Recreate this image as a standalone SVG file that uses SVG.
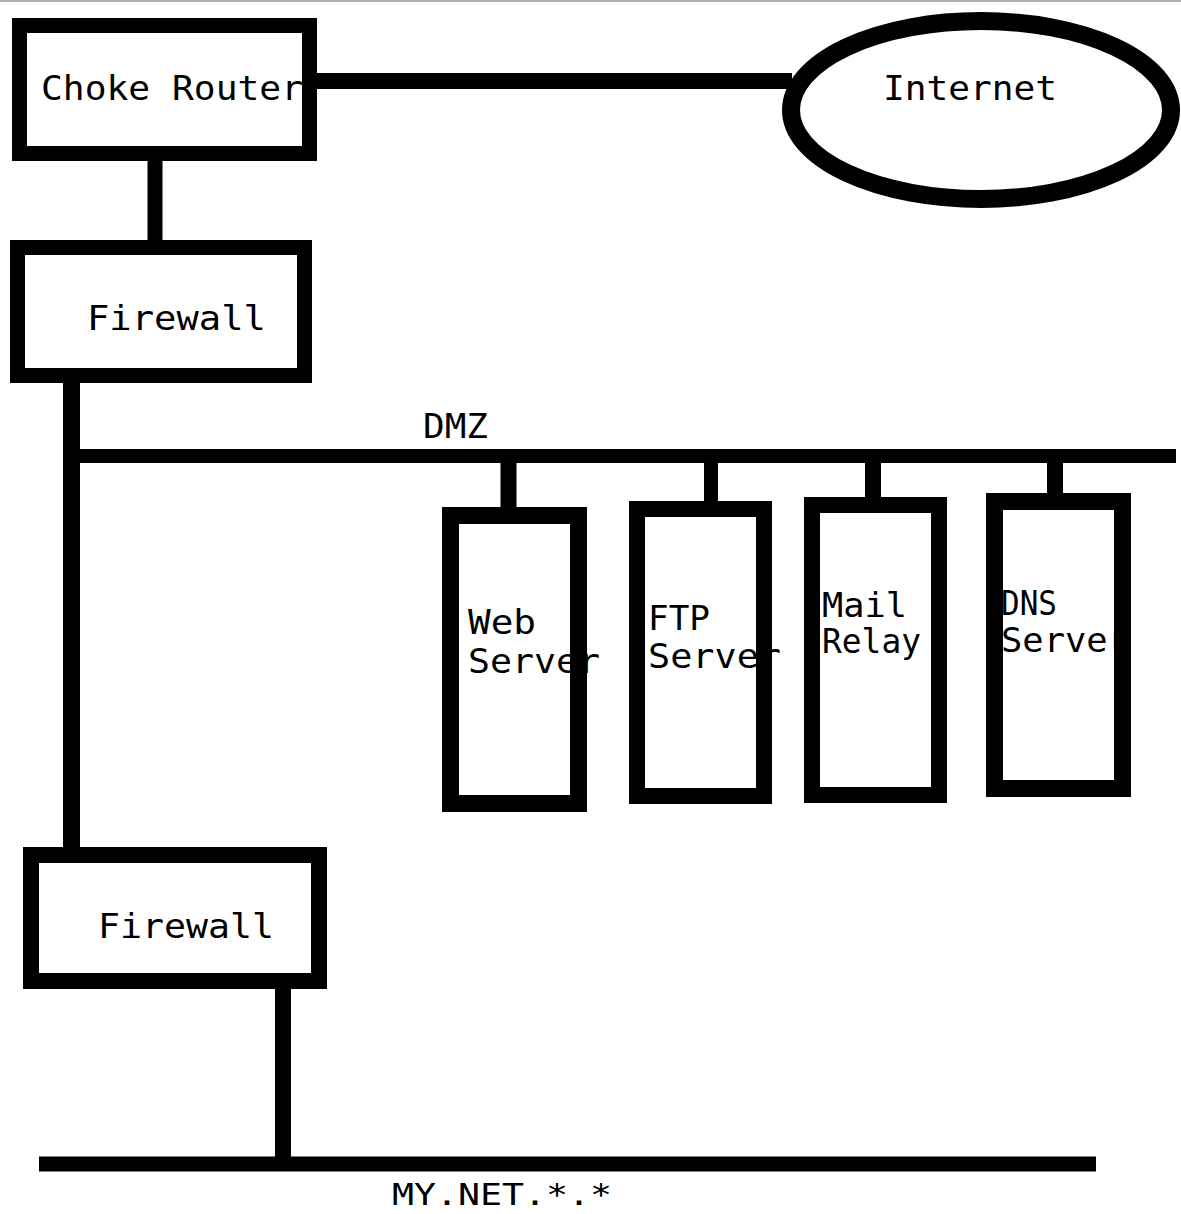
<svg xmlns="http://www.w3.org/2000/svg" width="1181" height="1214" viewBox="0 0 1181 1214">
  <style>
    .box { fill: #ffffff; stroke: #000000; }
    .wire { stroke: #000000; fill: none; stroke-linecap: butt; }
    .lbl { font-family: "DejaVu Sans Mono", "Liberation Mono", monospace; font-size: 33px; fill: #000000; }
  </style>
  <rect x="0" y="0" width="1181" height="1214" fill="#ffffff"/>
  <line x1="0" y1="1" x2="1181" y2="1" stroke="#b0b0b0" stroke-width="2"/>

  <g id="connectors">
    <line class="wire" x1="316" y1="81" x2="792" y2="81" stroke-width="16"/>
    <line class="wire" x1="155" y1="160" x2="155" y2="242" stroke-width="15"/>
    <line class="wire" x1="71.5" y1="382" x2="71.5" y2="849" stroke-width="17"/>
    <line class="wire" x1="63" y1="456" x2="1176" y2="456" stroke-width="14"/>
    <line class="wire" x1="508.5" y1="456" x2="508.5" y2="509" stroke-width="16"/>
    <line class="wire" x1="711" y1="456" x2="711" y2="502" stroke-width="14"/>
    <line class="wire" x1="873" y1="456" x2="873" y2="498" stroke-width="16"/>
    <line class="wire" x1="1055" y1="456" x2="1055" y2="494" stroke-width="16"/>
    <line class="wire" x1="283" y1="988" x2="283" y2="1164" stroke-width="16"/>
    <line class="wire" x1="39" y1="1164" x2="1096" y2="1164" stroke-width="15"/>
  </g>

  <g id="choke-router">
    <rect class="box" x="19.5" y="25.5" width="290" height="128" stroke-width="15"/>
    <text class="lbl" x="41" y="100" textLength="262" lengthAdjust="spacingAndGlyphs">Choke Router</text>
  </g>

  <g id="internet">
    <ellipse class="box" cx="981" cy="110" rx="190" ry="89" stroke-width="18"/>
    <text class="lbl" x="883" y="100" textLength="174" lengthAdjust="spacingAndGlyphs">Internet</text>
  </g>

  <g id="firewall-outer">
    <rect class="box" x="17.5" y="247.5" width="287" height="128" stroke-width="15"/>
    <text class="lbl" x="87" y="330" textLength="179" lengthAdjust="spacingAndGlyphs">Firewall</text>
  </g>

  <g id="dmz-label">
    <text class="lbl" x="423" y="438" textLength="65" lengthAdjust="spacingAndGlyphs">DMZ</text>
  </g>

  <g id="web-server">
    <rect class="box" x="450.5" y="515.5" width="128" height="288" stroke-width="17"/>
    <text class="lbl" x="468" y="634" textLength="68" lengthAdjust="spacingAndGlyphs">Web</text>
    <text class="lbl" x="468" y="673" textLength="132" lengthAdjust="spacingAndGlyphs">Server</text>
  </g>

  <g id="ftp-server">
    <rect class="box" x="637" y="509" width="127" height="287" stroke-width="16"/>
    <text class="lbl" x="648" y="630" textLength="62" lengthAdjust="spacingAndGlyphs">FTP</text>
    <text class="lbl" x="648" y="668" textLength="133" lengthAdjust="spacingAndGlyphs">Server</text>
  </g>

  <g id="mail-relay">
    <rect class="box" x="812" y="505" width="127" height="290" stroke-width="16"/>
    <text class="lbl" x="822" y="617" textLength="85" lengthAdjust="spacingAndGlyphs">Mail</text>
    <text class="lbl" x="822" y="653" textLength="99" lengthAdjust="spacingAndGlyphs">Relay</text>
  </g>

  <g id="dns-server">
    <rect class="box" x="994.5" y="501.5" width="128" height="287" stroke-width="17"/>
    <text class="lbl" x="1001" y="615" textLength="56" lengthAdjust="spacingAndGlyphs">DNS</text>
    <text class="lbl" x="1001" y="652" textLength="128" lengthAdjust="spacingAndGlyphs">Server</text>
  </g>

  <g id="firewall-inner">
    <rect class="box" x="31" y="855" width="288" height="126" stroke-width="16"/>
    <text class="lbl" x="98" y="938" textLength="176" lengthAdjust="spacingAndGlyphs">Firewall</text>
  </g>

  <g id="my-net-label">
    <text class="lbl" x="392" y="1205" font-size="30" textLength="220" lengthAdjust="spacingAndGlyphs" style="font-size:30px">MY.NET.*.*</text>
  </g>
</svg>
